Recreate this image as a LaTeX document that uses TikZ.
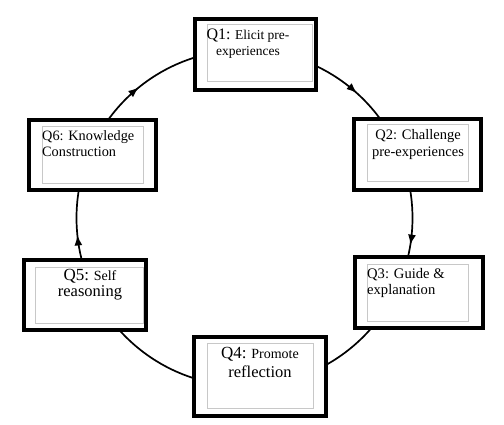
\documentclass[tikz,border=0pt]{standalone}
\usepackage{fontspec}
\setmainfont{Liberation Serif}
\usetikzlibrary{arrows.meta,decorations.markings}
\definecolor{innergray}{RGB}{200,200,200}
\tikzset{
  outerbox/.style={draw=black, line width=4pt, fill=white, rectangle, inner sep=0pt},
  innerbox/.style={draw=innergray, line width=1pt, fill=white, rectangle, inner sep=0pt},
  label/.style={inner sep=0pt, text=black},
  cyc/.style={line width=1.7pt}
}
\begin{document}
\begin{tikzpicture}[x=1pt,y=1pt]
\useasboundingbox[fill=white] (0,0) rectangle (504,424);
\coordinate (C) at (244.5,206);
% the cycle
\draw[cyc, postaction={decorate}, decoration={markings,
  mark=at position 0.1333 with {\arrowreversed{Latex[length=10.5pt,width=8pt]}},
  mark=at position 0.3583 with {\arrowreversed{Latex[length=10.5pt,width=8pt]}},
  mark=at position 0.5161 with {\arrowreversed{Latex[length=10.5pt,width=8pt]}},
  mark=at position 0.9742 with {\arrowreversed{Latex[length=10.5pt,width=8pt]}}}]
  (C) circle[radius=168pt];
% outer boxes
\node[outerbox, minimum width=121pt, minimum height=71pt] (q1) at (255.5,369.5) {};
\node[outerbox, minimum width=127pt, minimum height=71pt] (q2) at (417.5,269.5) {};
\node[outerbox, minimum width=128pt, minimum height=71pt] (q3) at (419,131.5) {};
\node[outerbox, minimum width=132pt, minimum height=79pt] (q4) at (260,47.5) {};
\node[outerbox, minimum width=122pt, minimum height=70pt] (q5) at (85,129) {};
\node[outerbox, minimum width=127pt, minimum height=70pt] (q6) at (92.5,269) {};
% inner boxes
\node[innerbox, minimum width=105pt, minimum height=57pt] (i1) at (259.5,370.5) {};
\node[innerbox, minimum width=101pt, minimum height=57pt] (i2) at (417.5,270.5) {};
\node[innerbox, minimum width=101pt, minimum height=57pt] (i3) at (417.5,131.5) {};
\node[innerbox, minimum width=106pt, minimum height=65pt] (i4) at (260,48.5) {};
\node[innerbox, minimum width=108pt, minimum height=56pt] (i5) at (89,129) {};
\node[innerbox, minimum width=101pt, minimum height=57pt] (i6) at (92.5,268.5) {};
% texts
\node[label, align=center, font=\fontsize{13.5}{16}\selectfont] (t1) at (248,380)
  {{\fontsize{16}{16}\selectfont Q1:} Elicit pre-\\experiences};
\node[label, align=center, font=\fontsize{14.5}{17}\selectfont] (t2) at (418,279.5)
  {Q2: Challenge\\pre-experiences};
\node[label, align=left, anchor=west, font=\fontsize{14.6}{16}\selectfont] (t3) at (367,141)
  {Q3: Guide \&\\explanation};
\node[label, align=center, font=\fontsize{14}{19}\selectfont] (t4) at (260,61.5)
  {{\fontsize{17}{19}\selectfont Q4:} Promote\\{\fontsize{16.5}{19}\selectfont reflection}};
\node[label, align=center, font=\fontsize{14}{16}\selectfont] (t5) at (90,139)
  {{\fontsize{17}{16}\selectfont Q5:} Self\\{\fontsize{16.5}{16}\selectfont reasoning}};
\node[label, align=left, anchor=west, font=\fontsize{14.3}{16}\selectfont] (t6) at (42,280)
  {Q6: Knowledge\\Construction};
\end{tikzpicture}
\end{document}
